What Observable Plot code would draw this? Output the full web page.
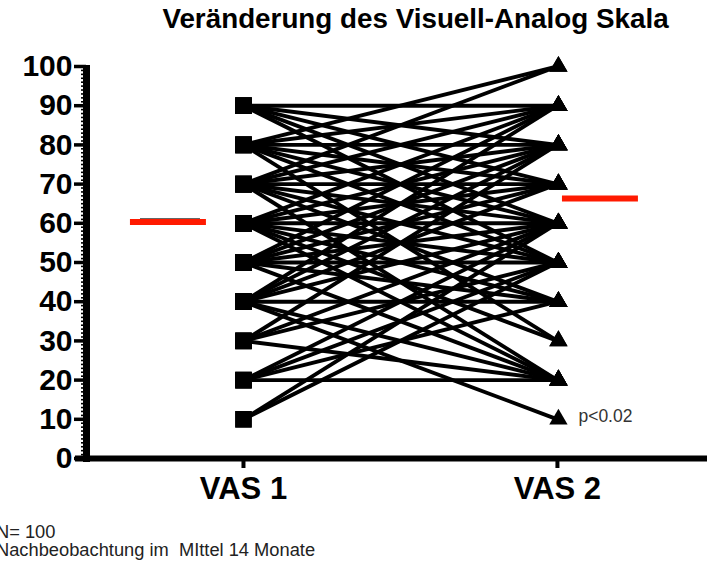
<!DOCTYPE html>
<html>
<head>
<meta charset="utf-8">
<script src="https://cdn.jsdelivr.net/npm/d3@7"></script>
<script src="https://cdn.jsdelivr.net/npm/@observablehq/plot@0.6"></script>
<style>
  html, body { margin: 0; padding: 0; background: #fff; }
  body { width: 707px; height: 564px; overflow: hidden; position: relative; font-family: "Liberation Sans", Arial, sans-serif; }
  #title { position: absolute; left: 0; top: 3px; width: 707px; text-align: center; padding-left: 124px; box-sizing: border-box; font-size: 27.8px; font-weight: bold; color: #000; white-space: nowrap; }
  #chart { position: absolute; left: 0; top: 44px; }
  #footer { position: absolute; left: -4px; top: 523px; font-size: 18.3px; color: #222; line-height: 18px; white-space: pre; }
  svg { overflow: visible; }
</style>
</head>
<body>
<div id="title"></div>
<div id="chart"></div>
<div id="footer"></div>
<script>
// ---- data ----
const titleText = "Veränderung des Visuell-Analog Skala";
const footerLines = ["N= 100", "Nachbeobachtung im  MIttel 14 Monate"];
const categories = ["VAS 1", "VAS 2"];
const yTicks = [0, 10, 20, 30, 40, 50, 60, 70, 80, 90, 100];
// paired values (VAS 1 -> VAS 2), one entry per drawn line
const vas1 = [
  90, 90, 90, 90, 90,
  80, 80, 80, 80, 80, 80, 80,
  70, 70, 70, 70, 70, 70, 70, 70,
  60, 60, 60, 60, 60, 60, 60, 60,
  50, 50, 50, 50, 50, 50, 50,
  40, 40, 40, 40, 40, 40, 40,
  30, 30, 30, 30,
  20, 20, 20, 20,
  10, 10
];
const vas2 = [
  90, 80, 70, 60, 50,
  100, 90, 80, 70, 60, 50, 30,
  100, 90, 80, 70, 60, 50, 40, 20,
  90, 80, 70, 60, 50, 40, 30, 20,
  90, 80, 70, 60, 50, 40, 20,
  90, 80, 70, 60, 40, 20, 10,
  80, 60, 50, 20,
  20, 60, 50, 40,
  60, 50
];
const means = [60.3, 66.3];
const pValueText = "p<0.02";

// ---- build ----
document.getElementById("title").textContent = titleText;
document.getElementById("footer").textContent = footerLines.join("\n");

const pairs = vas1.map((v, i) => ({a: v, b: vas2[i]}));
const xDomain = [0.5, 2.478];

const plot = Plot.plot({
  width: 707,
  height: 470,
  marginLeft: 86,
  marginRight: 0,
  marginTop: 22,
  marginBottom: 56,
  style: {fontFamily: "'Liberation Sans', Arial, sans-serif", color: "#000", background: "transparent"},
  x: {domain: xDomain, label: null},
  y: {domain: [0, 100], label: null},
  marks: [
    // minor y ticks
    Plot.axisY({ticks: d3.range(0, 101, 1), tickSize: 5, strokeWidth: 1.6, tickFormat: () => "", label: null}),
    // major y ticks and labels
    Plot.axisY({ticks: yTicks, tickSize: 12, strokeWidth: 3.5, fontSize: 30, fontWeight: "bold", tickPadding: 2, label: null, style: {letterSpacing: "-1.2px"}}),
    // x ticks and labels
    Plot.axisX({ticks: [1, 2], tickFormat: d => categories[d - 1], tickSize: 10, strokeWidth: 4, fontSize: 31, fontWeight: "bold", tickPadding: 8, label: null}),
    // paired lines
    Plot.link(pairs, {x1: () => 1, x2: () => 2, y1: "a", y2: "b", stroke: "#000", strokeWidth: 3.9}),
    Plot.dot(vas1, {x: () => 1, y: d => d, symbol: "square", r: 9.3, fill: "#000"}),
    Plot.dot(vas2, {x: () => 2, y: d => d, symbol: "triangle", r: 6.8, fill: "#000", dx: 1}),
    // axis lines
    Plot.ruleX([xDomain[0]], {y1: 100, y2: 0, stroke: "#000", strokeWidth: 7, insetBottom: -4, insetTop: -1}),
    Plot.ruleY([0], {stroke: "#000", strokeWidth: 6, insetLeft: -11}),
    // means
    Plot.ruleY([means[0] + 0.8], {x1: () => 0.672, x2: () => 0.863, stroke: "#333", strokeWidth: 1.5}),
    Plot.ruleY([means[0]], {x1: () => 0.640, x2: () => 0.882, stroke: "#ff1a00", strokeWidth: 6}),
    Plot.ruleY([means[1]], {x1: () => 2.016, x2: () => 2.258, stroke: "#ff1a00", strokeWidth: 6}),
    // p value
    Plot.text([pValueText], {x: () => 2, y: () => 10, text: d => d, dx: 21, dy: -3, textAnchor: "start", fontSize: 17.5, fill: "#333"})
  ]
});
document.getElementById("chart").appendChild(plot);
</script>
</body>
</html>
